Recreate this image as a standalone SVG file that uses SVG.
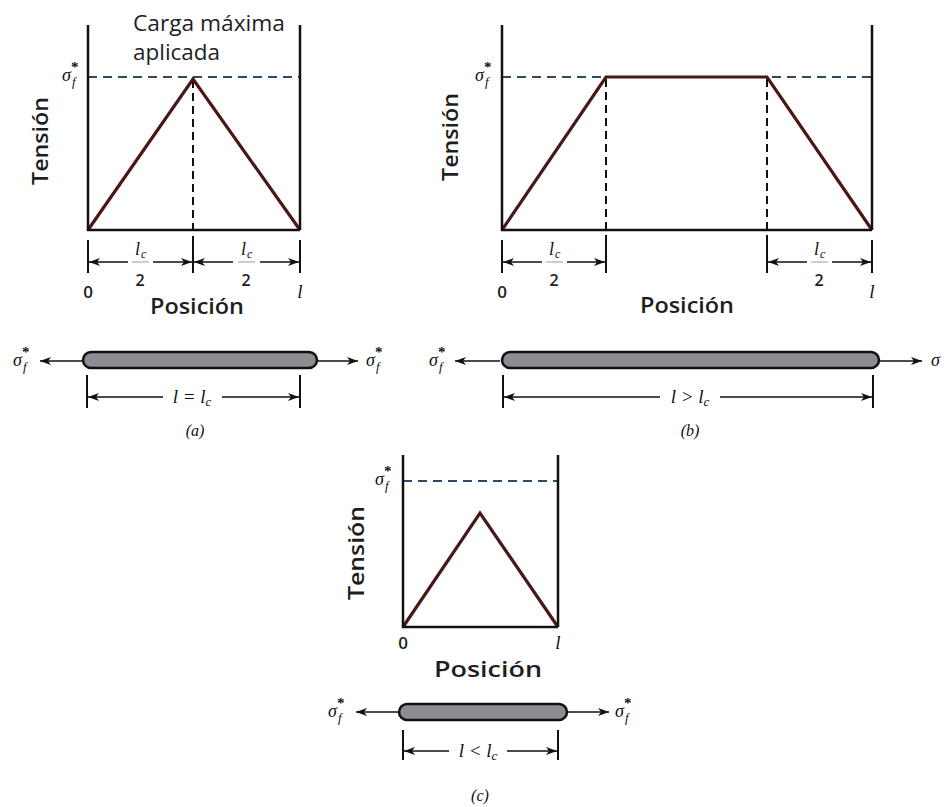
<svg xmlns="http://www.w3.org/2000/svg" width="944" height="807" viewBox="0 0 944 807">
<defs>
<style>
.ax{stroke:#111;stroke-width:2.5;fill:none}
.dh{stroke:#2f4a66;stroke-width:2;stroke-dasharray:9 6;fill:none}
.dv{stroke:#111;stroke-width:2;stroke-dasharray:8 5;fill:none}
.cv{stroke:#4a1616;stroke-width:3.2;fill:none;stroke-linejoin:miter}
.tk{stroke:#111;stroke-width:2;fill:none}
.ar{stroke:#111;stroke-width:1.6;fill:none;marker-end:url(#ah)}
.fr{stroke:#9a9a9a;stroke-width:1}
.bar{fill:#8c8c92;stroke:#111;stroke-width:2.5}
.lb{font-family:'Open Sans','Liberation Sans',sans-serif;fill:#1e1e1e;font-weight:600}
.tt{font-family:'Open Sans','Liberation Sans',sans-serif;fill:#1e1e1e;font-weight:400}
.mt{font-family:'Liberation Serif',serif;font-style:italic;fill:#111}
.st{font-family:'Liberation Serif',serif;fill:#111;font-weight:bold;font-size:15px}
.cap{font-family:'Liberation Serif',serif;font-style:italic;fill:#111;font-size:16px;text-anchor:middle}
</style>
<marker id="ah" viewBox="0 0 11 8" refX="11" refY="4" markerWidth="11" markerHeight="8" markerUnits="userSpaceOnUse" orient="auto">
<path d="M0,0 L11,4 L0,8 L3,4 z" fill="#111"/>
</marker>
</defs>
<rect width="944" height="807" fill="#fff"/>

<g id="panel-a">
<line class="dh" x1="88" y1="77" x2="300" y2="77"/>
<line class="dv" x1="193" y1="80" x2="193" y2="240"/>
<polyline class="cv" points="88,230 193,79 300,230"/>
<path class="ax" d="M88,25 V230 H300 M300,25 V230"/>
<text class="tt" x="133" y="31" font-size="21" textLength="152" lengthAdjust="spacingAndGlyphs">Carga máxima</text>
<text class="tt" x="133" y="60" font-size="21" textLength="87" lengthAdjust="spacingAndGlyphs">aplicada</text>
<text class="lb" font-size="21" text-anchor="middle" transform="translate(48,141) rotate(-90)" textLength="88" lengthAdjust="spacingAndGlyphs">Tensión</text>
<text class="mt" x="62" y="81" font-size="18">σ</text><text class="mt" x="72" y="86" font-size="13">f</text><text class="st" x="71" y="72">*</text>
<line class="tk" x1="88" y1="240" x2="88" y2="273"/>
<line class="tk" x1="193" y1="240" x2="193" y2="273"/>
<line class="tk" x1="300" y1="240" x2="300" y2="273"/>
<line class="fr" x1="132" y1="262" x2="149" y2="262"/>
<text class="mt" x="135" y="255" font-size="18">l</text><text class="mt" x="141" y="258" font-size="12">c</text>
<text class="lb" x="140" y="286" font-size="16" text-anchor="middle">2</text>
<line class="fr" x1="238" y1="262" x2="255" y2="262"/>
<text class="mt" x="241" y="255" font-size="18">l</text><text class="mt" x="247" y="258" font-size="12">c</text>
<text class="lb" x="246" y="286" font-size="16" text-anchor="middle">2</text>
<text class="lb" x="88" y="298" font-size="17" text-anchor="middle">0</text>
<text class="mt" x="300" y="298" font-size="19" text-anchor="middle">l</text>
<text class="lb" x="197" y="314" font-size="21" text-anchor="middle" textLength="94" lengthAdjust="spacingAndGlyphs">Posición</text>
</g>

<g id="bar-a">
<rect class="bar" x="83" y="352" width="234" height="16" rx="8"/>
<text class="mt" x="13" y="366" font-size="18">σ</text><text class="mt" x="23" y="371" font-size="13">f</text><text class="st" x="22" y="357">*</text>
<text class="mt" x="366" y="366" font-size="18">σ</text><text class="mt" x="376" y="371" font-size="13">f</text><text class="st" x="375" y="357">*</text>
<line class="tk" x1="87" y1="375" x2="87" y2="408"/>
<line class="tk" x1="300" y1="375" x2="300" y2="408"/>
<text class="mt" x="192" y="403" font-size="19" text-anchor="middle">l = l<tspan font-size="13" dy="3">c</tspan></text>
<text class="cap" x="195" y="436">(a)</text>
</g>

<g id="panel-b">
<line class="dh" x1="502" y1="77" x2="872" y2="77"/>
<line class="dv" x1="606" y1="79" x2="606" y2="240"/>
<line class="dv" x1="767" y1="79" x2="767" y2="240"/>
<polyline class="cv" points="502,230 606,77 767,77 872,230"/>
<path class="ax" d="M502,25 V230 H872 M872,25 V230"/>
<text class="lb" font-size="21" text-anchor="middle" transform="translate(458,137) rotate(-90)" textLength="88" lengthAdjust="spacingAndGlyphs">Tensión</text>
<text class="mt" x="475" y="81" font-size="18">σ</text><text class="mt" x="485" y="86" font-size="13">f</text><text class="st" x="484" y="72">*</text>
<line class="tk" x1="502" y1="240" x2="502" y2="273"/>
<line class="tk" x1="606" y1="240" x2="606" y2="273"/>
<line class="tk" x1="767" y1="240" x2="767" y2="273"/>
<line class="tk" x1="872" y1="240" x2="872" y2="273"/>
<line class="fr" x1="546" y1="262" x2="563" y2="262"/>
<text class="mt" x="549" y="255" font-size="18">l</text><text class="mt" x="555" y="258" font-size="12">c</text>
<text class="lb" x="554" y="286" font-size="16" text-anchor="middle">2</text>
<line class="fr" x1="811" y1="262" x2="828" y2="262"/>
<text class="mt" x="814" y="255" font-size="18">l</text><text class="mt" x="820" y="258" font-size="12">c</text>
<text class="lb" x="819" y="286" font-size="16" text-anchor="middle">2</text>
<text class="lb" x="502" y="298" font-size="17" text-anchor="middle">0</text>
<text class="mt" x="872" y="298" font-size="19" text-anchor="middle">l</text>
<text class="lb" x="687" y="313" font-size="21" text-anchor="middle" textLength="94" lengthAdjust="spacingAndGlyphs">Posición</text>
</g>

<g id="bar-b">
<rect class="bar" x="502" y="352" width="377" height="16" rx="8"/>
<text class="mt" x="429" y="366" font-size="18">σ</text><text class="mt" x="439" y="371" font-size="13">f</text><text class="st" x="438" y="357">*</text>
<text class="mt" x="931" y="366" font-size="18">σ</text>
<line class="tk" x1="503" y1="375" x2="503" y2="408"/>
<line class="tk" x1="873" y1="375" x2="873" y2="408"/>
<text class="mt" x="690" y="403" font-size="19" text-anchor="middle">l &gt; l<tspan font-size="13" dy="3">c</tspan></text>
<text class="cap" x="690" y="436">(b)</text>
</g>

<g id="panel-c">
<line class="dh" x1="403" y1="481" x2="558" y2="481"/>
<polyline class="cv" points="403,627 480,513 558,627"/>
<path class="ax" d="M403,455 V627 H558 M558,455 V627"/>
<text class="lb" font-size="22" text-anchor="middle" transform="translate(364,553) rotate(-90)" textLength="94" lengthAdjust="spacingAndGlyphs">Tensión</text>
<text class="mt" x="375" y="485" font-size="18">σ</text><text class="mt" x="385" y="490" font-size="13">f</text><text class="st" x="384" y="476">*</text>
<text class="lb" x="403" y="649" font-size="17" text-anchor="middle">0</text>
<text class="mt" x="558" y="649" font-size="19" text-anchor="middle">l</text>
<text class="lb" x="488" y="677" font-size="22" text-anchor="middle" textLength="108" lengthAdjust="spacingAndGlyphs">Posición</text>
</g>

<g id="bar-c">
<rect class="bar" x="399" y="704" width="168" height="16" rx="8"/>
<text class="mt" x="328" y="717" font-size="18">σ</text><text class="mt" x="338" y="722" font-size="13">f</text><text class="st" x="337" y="708">*</text>
<text class="mt" x="615" y="717" font-size="18">σ</text><text class="mt" x="625" y="722" font-size="13">f</text><text class="st" x="624" y="708">*</text>
<line class="tk" x1="403" y1="730" x2="403" y2="760"/>
<line class="tk" x1="558" y1="730" x2="558" y2="760"/>
<text class="mt" x="478" y="757" font-size="19" text-anchor="middle">l &lt; l<tspan font-size="13" dy="3">c</tspan></text>
<text class="cap" x="480" y="801">(c)</text>
</g>

<g id="connectors">
<line class="ar" x1="128" y1="262" x2="89" y2="262"/>
<line class="ar" x1="153" y1="262" x2="192" y2="262"/>
<line class="ar" x1="233" y1="262" x2="194" y2="262"/>
<line class="ar" x1="260" y1="262" x2="299" y2="262"/>
<line class="ar" x1="542" y1="262" x2="503" y2="262"/>
<line class="ar" x1="567" y1="262" x2="605" y2="262"/>
<line class="ar" x1="807" y1="262" x2="768" y2="262"/>
<line class="ar" x1="832" y1="262" x2="871" y2="262"/>
<line class="ar" x1="82" y1="361" x2="40" y2="361"/>
<line class="ar" x1="318" y1="361" x2="358" y2="361"/>
<line class="ar" x1="163" y1="397" x2="88" y2="397"/>
<line class="ar" x1="222" y1="397" x2="299" y2="397"/>
<line class="ar" x1="500" y1="361" x2="455" y2="361"/>
<line class="ar" x1="880" y1="361" x2="922" y2="361"/>
<line class="ar" x1="660" y1="397" x2="504" y2="397"/>
<line class="ar" x1="720" y1="397" x2="872" y2="397"/>
<line class="ar" x1="398" y1="712" x2="356" y2="712"/>
<line class="ar" x1="568" y1="712" x2="609" y2="712"/>
<line class="ar" x1="449" y1="751" x2="404" y2="751"/>
<line class="ar" x1="507" y1="751" x2="557" y2="751"/>
</g>
</svg>
